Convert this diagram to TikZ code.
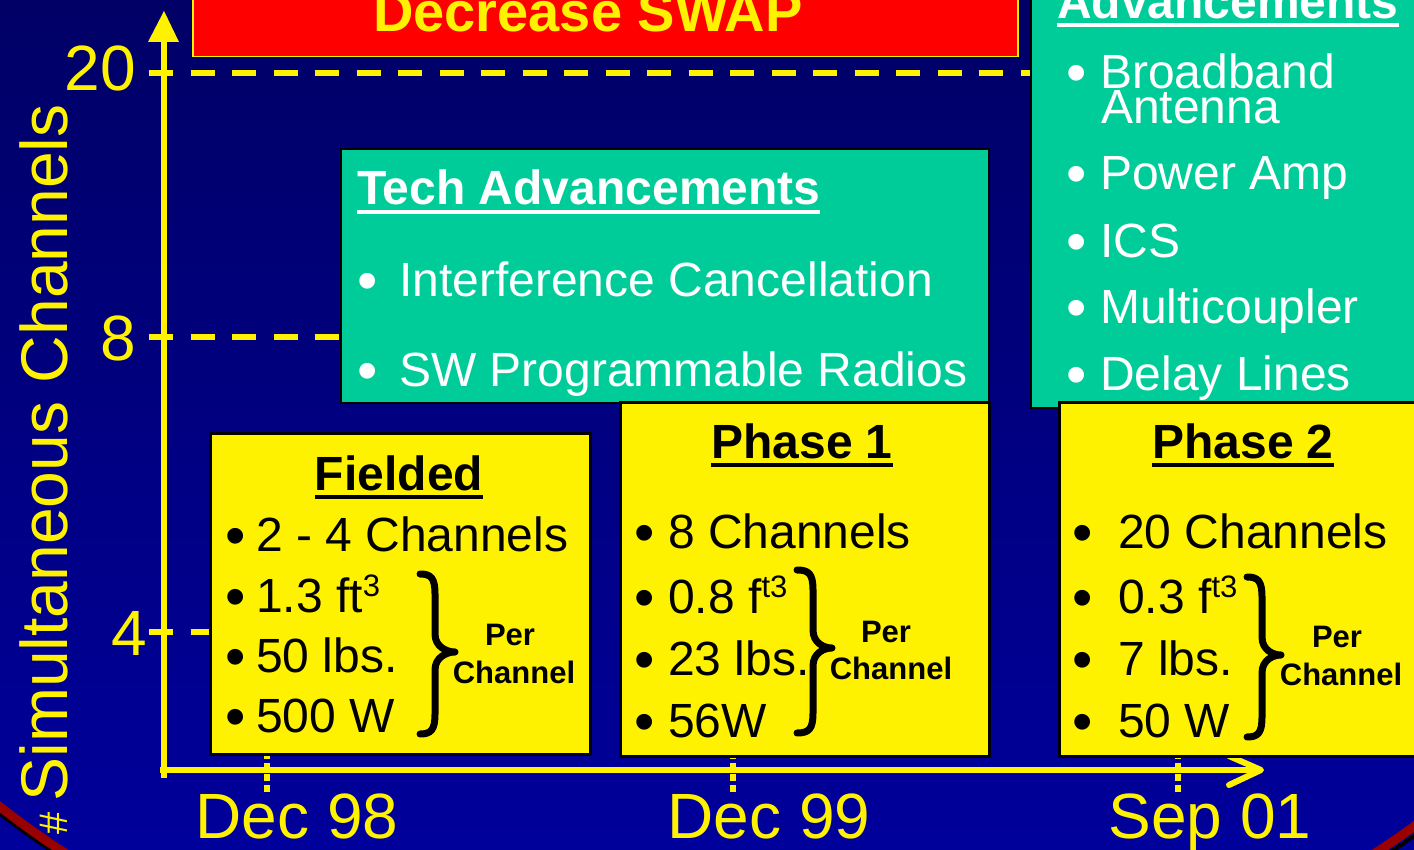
\documentclass[tikz,border=0pt]{standalone}
\usepackage{fontspec}
\setmainfont{Liberation Sans}
\usetikzlibrary{arrows.meta}

\definecolor{navytop}{RGB}{0,0,102}
\definecolor{navybot}{RGB}{0,0,155}
\definecolor{techgreen}{RGB}{0,204,153}
\definecolor{rimred}{RGB}{153,0,0}

\newcommand\fs[1]{\fontsize{#1pt}{#1pt}\selectfont}
% heavy underline drawn as a rule below the baseline
\newcommand\ulbox[1]{\setbox0\hbox{#1}\rlap{\rule[-9pt]{\wd0}{4pt}}\box0}
% raised small exponent
\newcommand\upsmall[1]{\raisebox{16pt}{\fs{31}#1}}
% list bullet, slightly enlarged and lowered to sit on the text's x-height
\newcommand\bul{\raisebox{-4pt}{\fs{58}•}}

\tikzset{
  gridline/.style={yellow, line width=6pt, dash pattern=on 24pt off 17.5pt},
  tickline/.style={yellow, line width=6pt, dash pattern=on 7pt off 4pt},
  axisline/.style={yellow, line width=6pt},
  ybox/.style={draw=black, line width=2.5pt, fill=yellow, anchor=north west, inner sep=0pt},
  gbox/.style={draw=black, line width=2pt, fill=techgreen, anchor=north west, inner sep=0pt},
  rbox/.style={draw=yellow, line width=1.5pt, fill=red, anchor=north west, inner sep=0pt},
  txt/.style={inner sep=0pt, anchor=base west},
  ctxt/.style={inner sep=0pt, anchor=base},
  wtxt/.style={txt, text=white, font=\fs{48}},
  btxt/.style={txt, text=black, font=\fs{48}},
  wbul/.style={ctxt, text=white},
  bbul/.style={ctxt, text=black},
  wtitle/.style={txt, text=white, font=\fs{48}\bfseries},
  btitle/.style={ctxt, text=black, font=\fs{48}\bfseries},
  perch/.style={ctxt, text=black, font=\fs{31}\bfseries},
  axlabel/.style={ctxt, text=yellow, font=\fs{64}},
  ticklabel/.style={inner sep=0pt, anchor=base east, text=yellow, font=\fs{64}},
  bracestroke/.style={black, line width=7pt, line cap=round, line join=round},
}

% curly brace: left x, stem x, tip x, top y, tip y, bottom y
\newcommand\drawbrace[6]{%
  \draw[bracestroke] (#1,#4) .. controls (#2-4,#4) and (#2,#4+4) .. (#2,#4+20)
    -- (#2,#5-18) .. controls (#2,#5-5) and (#3-8,#5) .. (#3,#5)
    .. controls (#3-8,#5) and (#2,#5+5) .. (#2,#5+18)
    -- (#2,#6-20) .. controls (#2,#6-4) and (#2-4,#6) .. (#1,#6);}

\begin{document}
\begin{tikzpicture}[x=1pt, y=-1pt]
\useasboundingbox (0,0) rectangle (1414,850);
\clip (0,0) rectangle (1414,850);

% backdrop and rim
\shade[top color=navytop, bottom color=navybot] (0,0) rectangle (1414,850);
\draw[black, line width=4pt] (722,302) ellipse [x radius=998pt, y radius=741pt];
\draw[rimred, line width=9pt] (720,300) ellipse [x radius=993pt, y radius=736pt];

% level guide lines
\draw[gridline] (149,73.5) -- (1030,73.5);
\draw[gridline] (149,337) -- (340,337);
\draw[gridline] (149,632) -- (209,632);

% date ticks
\draw[tickline] (266.5,792) -- (266.5,745);
\draw[tickline] (733,792) -- (733,745);
\draw[tickline] (1178,792) -- (1178,745);

% axes
\coordinate (origin) at (164,770);
\coordinate (ytip) at (164,11);
\coordinate (xtip) at (1261,770);
\draw[axisline] (164,778) -- (164,40);
\fill[yellow] (ytip) -- (179,42) -- (148,42) -- cycle;
\draw[axisline] (160,770) -- (1256,770);
\draw[axisline, line cap=round, line join=round] (1229,756) -- (xtip) -- (1229,785);

% boxes
\node[rbox, minimum width=825pt, minimum height=76pt] (swap) at (192,-20) {};
\node[gbox, minimum width=400pt, minimum height=427pt] (techright) at (1030,-20) {};
\node[gbox, minimum width=648pt, minimum height=254pt] (techmid) at (340,148) {};
\node[ybox, minimum width=380pt, minimum height=321pt] (fielded) at (209,432) {};
\node[ybox, minimum width=369pt, minimum height=354pt] (phaseone) at (619,401) {};
\node[ybox, minimum width=380pt, minimum height=354pt] (phasetwo) at (1058,401) {};

% banner
\node[ctxt, text=yellow, font=\fs{56}\bfseries] (swaptxt) at (588,32) {Decrease SWAP};

% right technology list
\node[wtitle] (advr) at (1057,18.5) {\ulbox{Advancements}};
\node[wbul] (rb1) at (1077,89) {\bul};
\node[wtxt] (rt1) at (1100,89) {Broadband};
\node[wtxt] (rt1b) at (1101,124) {Antenna};
\node[wbul] (rb2) at (1077,190) {\bul};
\node[wtxt] (rt2) at (1100,190) {Power Amp};
\node[wbul] (rb3) at (1077,258) {\bul};
\node[wtxt] (rt3) at (1100,258) {ICS};
\node[wbul] (rb4) at (1077,324) {\bul};
\node[wtxt] (rt4) at (1100,324) {Multicoupler};
\node[wbul] (rb5) at (1077,390) {\bul};
\node[wtxt] (rt5) at (1100,390) {Delay Lines};

% middle technology list
\node[wtitle] (advm) at (357,205) {\ulbox{Tech Advancements}};
\node[wbul] (mb1) at (368,297) {\bul};
\node[wtxt] (mt1) at (399,297) {Interference Cancellation};
\node[wbul] (mb2) at (368,386) {\bul};
\node[wtxt] (mt2) at (399,386) {SW Programmable Radios};

% fielded system
\node[btitle] (ftitle) at (399,490) {\ulbox{Fielded}};
\node[bbul] (fb1) at (236,551) {\bul};
\node[btxt] (ft1) at (256,551) {2 - 4 Channels};
\node[bbul] (fb2) at (236,612) {\bul};
\node[btxt] (ft2) at (256,612) {1.3 ft\upsmall{3}};
\node[bbul] (fb3) at (236,672) {\bul};
\node[btxt] (ft3) at (256,672) {50 lbs.};
\node[bbul] (fb4) at (236,732) {\bul};
\node[btxt] (ft4) at (256,732) {500 W};
\drawbrace{420}{435}{455}{574}{652}{734}
\node[perch] (fper) at (510,645) {Per};
\node[perch] (fch) at (514,683) {Channel};

% phase 1
\node[btitle] (p1title) at (802,458) {\ulbox{Phase 1}};
\node[bbul] (ab1) at (645,548) {\bul};
\node[btxt] (at1) at (668,548) {8 Channels};
\node[bbul] (ab2) at (645,613) {\bul};
\node[btxt] (at2) at (668,613) {0.8 f\upsmall{t3}};
\node[bbul] (ab3) at (645,675) {\bul};
\node[btxt] (at3) at (668,675) {23 lbs.};
\node[bbul] (ab4) at (645,737) {\bul};
\node[btxt] (at4) at (668,737) {56W};
\drawbrace{797}{813}{832}{570}{648}{733}
\node[perch] (aper) at (886,642) {Per};
\node[perch] (ach) at (891,679) {Channel};

% phase 2
\node[btitle] (p2title) at (1243,458) {\ulbox{Phase 2}};
\node[bbul] (bb1) at (1083,548) {\bul};
\node[btxt] (bt1) at (1118,548) {20 Channels};
\node[bbul] (bb2) at (1083,613) {\bul};
\node[btxt] (bt2) at (1118,613) {0.3 f\upsmall{t3}};
\node[bbul] (bb3) at (1083,675) {\bul};
\node[btxt] (bt3) at (1118,675) {7 lbs.};
\node[bbul] (bb4) at (1083,737) {\bul};
\node[btxt] (bt4) at (1118,737) {50 W};
\drawbrace{1247}{1262}{1281}{577}{655}{737}
\node[perch] (bper) at (1337,647) {Per};
\node[perch] (bch) at (1341,685) {Channel};

% axis labels
\node[ticklabel] (l20) at (136,91) {20};
\node[ticklabel] (l8) at (136,360) {8};
\node[ticklabel] (l4) at (147,655) {4};
\node[axlabel] (d98) at (297,838) {Dec 98};
\node[axlabel] (d99) at (769,838) {Dec 99};
\node[axlabel] (s01) at (1210,838) {Sep 01};
\node[inner sep=0pt, rotate=90, anchor=base west, text=yellow] (ylabel) at (67,835)
  {\fs{40}\#\ \fs{66}Simultaneous Channels};
\end{tikzpicture}
\end{document}
